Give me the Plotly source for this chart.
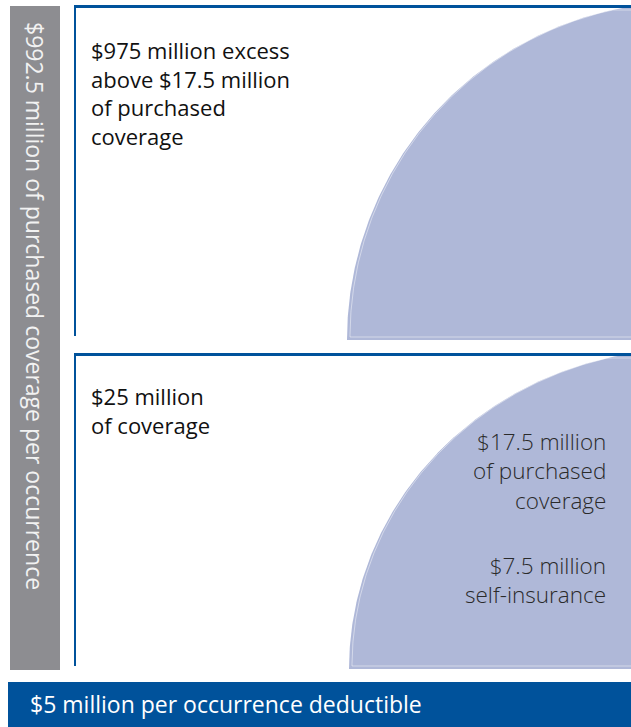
import numpy as np
import plotly.graph_objects as go

# Coverage amounts, in millions of dollars
total_purchased = 992.5
excess_layer = 975
excess_attach = 17.5
primary_layer = 25
primary_purchased = 17.5
self_insured = 7.5
deductible = 5

W, H = 631, 727
BLUE = "#00529B"
GRAY = "#8D8D91"
FILL = "#AFB8D8"
FONT = "Open Sans"


def money(v):
    return f"${v:g}"


def quarter_blob(cx, cy, a, b, ytop, inset=0.0):
    t = np.linspace(0, np.pi / 2, 240)
    x = cx - (a - inset) * np.cos(t)
    y = cy - inset - (b - inset) * np.sin(t)
    y = np.maximum(y, ytop + inset)
    return x, y


fig = go.Figure()

# Two tier panels: (center x, bottom y, semi-axes, top edge)
panels = [
    dict(cx=685, cy=340, a=338, b=338, top=7),
    dict(cx=687, cy=669, a=338, b=320, top=355),
]
for p in panels:
    x, y = quarter_blob(p["cx"], p["cy"], p["a"], p["b"], p["top"])
    fig.add_trace(go.Scatter(
        x=list(x) + [p["cx"], x[0]], y=list(y) + [p["cy"], y[0]],
        mode="lines", fill="toself", fillcolor=FILL,
        line=dict(width=0, color=FILL), hoverinfo="skip", showlegend=False,
    ))
    # faint inner highlight along the bottom edge and the curved edge
    xi, yi = quarter_blob(p["cx"], p["cy"], p["a"], p["b"], p["top"], inset=3)
    fig.add_trace(go.Scatter(
        x=[p["cx"]] + list(xi), y=[yi[0]] + list(yi),
        mode="lines", line=dict(width=1, color="rgba(255,255,255,0.45)"),
        hoverinfo="skip", showlegend=False,
    ))

shapes = [
    # gray side bar
    dict(type="rect", x0=10, x1=60, y0=6, y1=670, fillcolor=GRAY, line_width=0, layer="below"),
    # upper panel frame
    dict(type="line", x0=75, x1=W + 2, y0=6.5, y1=6.5, line=dict(color=BLUE, width=3)),
    dict(type="line", x0=75, x1=75, y0=5, y1=336, line=dict(color=BLUE, width=2)),
    # lower panel frame
    dict(type="line", x0=75, x1=W + 2, y0=354.5, y1=354.5, line=dict(color=BLUE, width=3)),
    dict(type="line", x0=75, x1=75, y0=353, y1=666, line=dict(color=BLUE, width=2)),
    # deductible banner
    dict(type="rect", x0=8, x1=W + 2, y0=682, y1=H + 2, fillcolor=BLUE, line_width=0),
]

annotations = []


def text_block(lines, x, y_top, anchor, size, color, weight=400):
    annotations.append(dict(
        x=x, y=y_top, text="<br>".join(lines), xanchor=anchor, yanchor="top",
        align=anchor, font=dict(family=FONT, size=size, color=color, weight=weight),
    ))


annotations.append(dict(
    x=35, y=306, text=f"{money(total_purchased)} million of purchased coverage per occurrence",
    textangle=90, font=dict(family=FONT, size=23, color="#F2F2F2", weight=400),
    xanchor="center", yanchor="middle",
))
text_block([f"{money(excess_layer)} million excess",
            f"above {money(excess_attach)} million",
            "of purchased", "coverage"],
           89, 33, "left", 22, "#111111")
text_block([f"{money(primary_layer)} million", "of coverage"],
           89, 379, "left", 22, "#111111")
text_block([f"{money(primary_purchased)} million", "of purchased", "coverage"],
           608, 424, "right", 22.5, "#2A2A2A", 300)
text_block([f"{money(self_insured)} million", "self-insurance"],
           608, 548, "right", 22.5, "#2A2A2A", 300)
text_block([f"{money(deductible)} million per occurrence deductible"],
           28, 686, "left", 23, "#FFFFFF")

for a in annotations:
    a.update(xref="x", yref="y", showarrow=False)

fig.update_layout(
    width=W, height=H, margin=dict(l=0, r=0, t=0, b=0),
    paper_bgcolor="white", plot_bgcolor="white",
    xaxis=dict(range=[0, W], visible=False, fixedrange=True),
    yaxis=dict(range=[H, 0], visible=False, fixedrange=True),
    shapes=shapes, annotations=annotations, showlegend=False,
)

fig.write_html("out.html")
